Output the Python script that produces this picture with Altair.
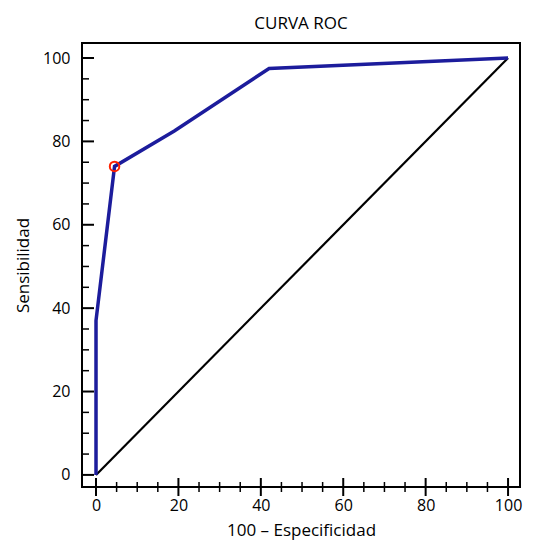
import altair as alt
import pandas as pd

# ROC curve points (100 - specificity, sensitivity)
fpr = [0, 0, 4.5, 19, 42, 100]
tpr = [0, 37, 74, 82.5, 97.5, 100]
# optimal cut-off point
opt_x = [4.5]
opt_y = [74]
# reference diagonal
diag_x = [0, 100]
diag_y = [0, 100]

major_ticks = [0, 20, 40, 60, 80, 100]
minor_ticks = [5, 10, 15, 25, 30, 35, 45, 50, 55, 65, 70, 75, 85, 90, 95]

W, H = 438, 444
FONT = "Open Sans"
xdom = [-3.4, 102.9]
ydom = [-2.9, 103.6]

xs = alt.Scale(domain=xdom, nice=False, zero=False)
ys = alt.Scale(domain=ydom, nice=False, zero=False)

curve_df = pd.DataFrame({"x": fpr, "y": tpr, "o": range(len(fpr))})
diag_df = pd.DataFrame({"x": diag_x, "y": diag_y})
opt_df = pd.DataFrame({"x": opt_x, "y": opt_y})
maj_df = pd.DataFrame({"v": major_ticks})
min_df = pd.DataFrame({"v": minor_ticks})

xaxis = alt.Axis(values=major_ticks, ticks=False, domain=False, grid=False,
                 labelFontSize=16, labelFont=FONT, labelColor="black", labelPadding=10,
                 title="100 – Especificidad", titleFontSize=17, titleFont=FONT,
                 titleFontWeight="normal", titleColor="black", titlePadding=9)
yaxis = alt.Axis(values=major_ticks, ticks=False, domain=False, grid=False,
                 labelFontSize=16, labelFont=FONT, labelColor="black", labelPadding=12,
                 title="Sensibilidad", titleFontSize=17, titleFont=FONT,
                 titleFontWeight="normal", titleColor="black", titlePadding=10)

diag = alt.Chart(diag_df).mark_line(color="black", strokeWidth=2.2).encode(
    x=alt.X("x:Q", scale=xs, axis=xaxis),
    y=alt.Y("y:Q", scale=ys, axis=yaxis),
)
curve = alt.Chart(curve_df).mark_line(color="#1c1c9c", strokeWidth=3.5).encode(
    x=alt.X("x:Q", scale=xs), y=alt.Y("y:Q", scale=ys), order="o:Q"
)
opt = alt.Chart(opt_df).mark_point(shape="circle", filled=False, color="#ff2200",
                                   strokeWidth=2, size=90, opacity=1).encode(
    x=alt.X("x:Q", scale=xs), y=alt.Y("y:Q", scale=ys)
)

# inward ticks on the bottom edge (tick marks anchored in pixel space)
xmaj = alt.Chart(maj_df).mark_tick(color="black", thickness=2, size=18, opacity=1).encode(
    x=alt.X("v:Q", scale=xs), y=alt.YValue(H))
xmin = alt.Chart(min_df).mark_tick(color="black", thickness=1.5, size=10, opacity=1).encode(
    x=alt.X("v:Q", scale=xs), y=alt.YValue(H))
ymaj = alt.Chart(maj_df).mark_rule(color="black", strokeWidth=2).encode(
    y=alt.Y("v:Q", scale=ys), x=alt.XValue(0), x2=alt.X2Value(12))
ymin = alt.Chart(min_df).mark_rule(color="black", strokeWidth=1.5).encode(
    y=alt.Y("v:Q", scale=ys), x=alt.XValue(0), x2=alt.X2Value(7))

chart = alt.layer(diag, curve, xmaj, xmin, ymaj, ymin, opt).properties(
    width=W, height=H,
    title=alt.Title("CURVA ROC", font=FONT, fontSize=17, fontWeight="normal",
                    color="black", offset=10),
    autosize=alt.AutoSizeParams(type="none"),
    padding={"left": 74, "top": 35, "right": 6, "bottom": 56},
).configure_view(stroke="black", strokeWidth=2)

chart.save("out.html", embed_options={"renderer": "svg", "actions": False})
